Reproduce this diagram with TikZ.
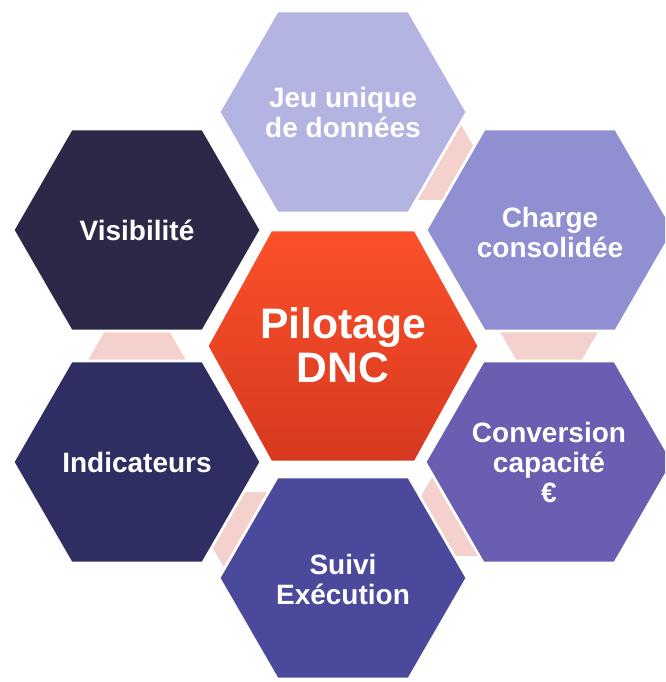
\documentclass[tikz,border=0pt]{standalone}
\usepackage{fontspec}
\setmainfont{Liberation Sans}

\definecolor{jeucol}{RGB}{180,180,226}
\definecolor{chargecol}{RGB}{143,143,209}
\definecolor{convcol}{RGB}{106,94,178}
\definecolor{suivicol}{RGB}{74,73,155}
\definecolor{indiccol}{RGB}{47,46,99}
\definecolor{visibcol}{RGB}{45,40,72}
\definecolor{linkcol}{RGB}{244,209,204}
\definecolor{pilottop}{RGB}{252,80,42}
\definecolor{pilotbot}{RGB}{214,57,32}

\tikzset{
  pics/hexa/.style args={#1/#2}{code={
    \path[pic actions] (-#1,0) -- (-#1*0.53,-#2) -- (#1*0.53,-#2) -- (#1,0)
      -- (#1*0.53,#2) -- (-#1*0.53,#2) -- cycle;}},
  cell/.style={draw=white, line width=2pt},
  link/.style={fill=linkcol, draw=white, line width=1.5pt},
  lbl/.style={text=white, font=\bfseries\fontsize{21}{22.5}\selectfont, align=center}
}

\begin{document}
\begin{tikzpicture}[x=0.75pt, y=-0.75pt]
    \clip (0,0) rectangle (665,682);
    % pink links between the outer cells
    \foreach \lx/\ly in {549/310, 414/150, 137/382, 271/542, 477/506}
      \pic[link] at (\lx,\ly) {hexa=63/51};
    % outer cells
    \pic[cell, fill=jeucol] at (343,112) {hexa=124/101};
    \pic[cell, fill=chargecol] at (550,230) {hexa=124/101};
    \pic[cell, fill=convcol] at (549,462) {hexa=124/101};
    \pic[cell, fill=suivicol] at (343,578) {hexa=124/101};
    \pic[cell, fill=indiccol] at (137,462) {hexa=124/101};
    \pic[cell, fill=visibcol] at (137,230) {hexa=124/101};
    % centre cell
    \pic[cell, top color=pilottop, bottom color=pilotbot] at (343,346) {hexa=136/116};
    \node[lbl] (jeu) at (343,112) {Jeu unique\\de données};
    \node[lbl] (charge) at (550,232) {Charge\\consolidée};
    \node[lbl] (conv) at (549,462) {Conversion\\capacité\\€};
    \node[lbl] (suivi) at (343,579) {Suivi\\Exécution};
    \node[lbl] (indic) at (137,462) {Indicateurs};
    \node[lbl] (visib) at (137,230) {Visibilité};
    \node[lbl, font=\bfseries\fontsize{32}{33}\selectfont] (pilot) at (343,345) {Pilotage\\DNC};
\end{tikzpicture}
\end{document}
